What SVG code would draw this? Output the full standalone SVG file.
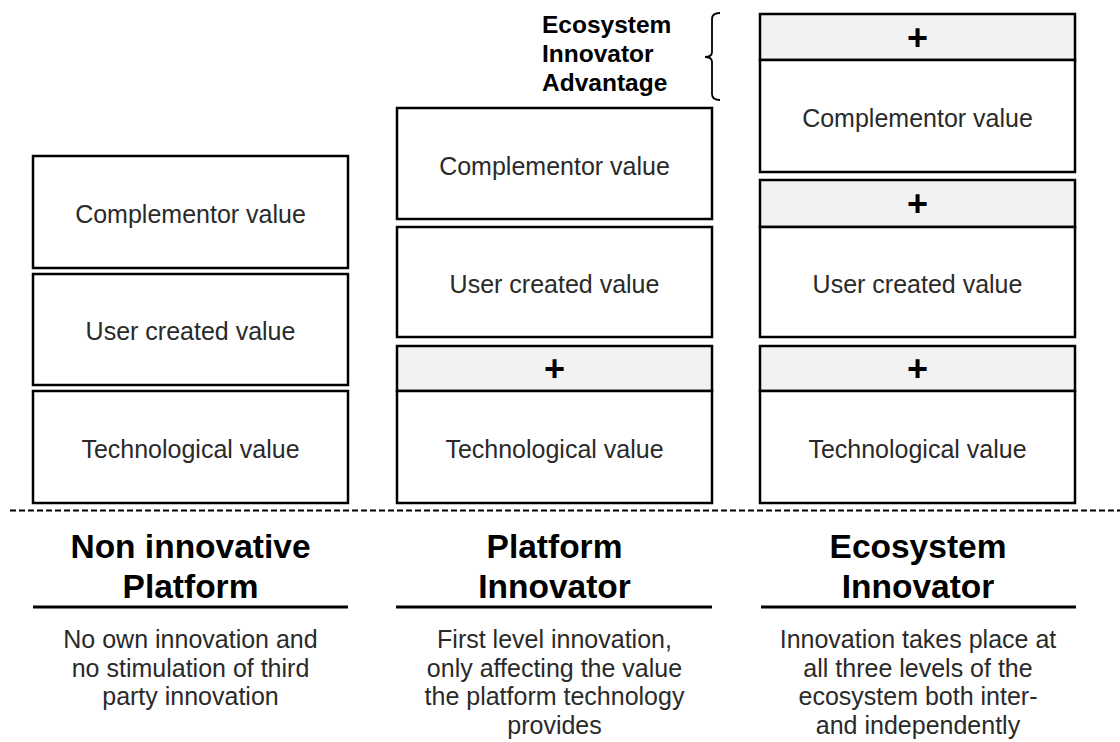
<svg xmlns="http://www.w3.org/2000/svg" width="1120" height="742" viewBox="0 0 1120 742">
  <style>
    .box { fill: #ffffff; stroke: #000000; stroke-width: 2.5; }
    .plus-band { fill: #f2f2f2; stroke: #000000; stroke-width: 2.5; }
    .label { font-family: "Liberation Sans", Arial, sans-serif; font-size: 25px; fill: #2a2a2a; text-anchor: middle; }
    .plus { font-family: "Liberation Sans", Arial, sans-serif; font-size: 36px; font-weight: bold; fill: #000000; text-anchor: middle; }
    .title { font-family: "Liberation Sans", Arial, sans-serif; font-size: 33.5px; font-weight: bold; fill: #000000; text-anchor: middle; }
    .desc { font-family: "Liberation Sans", Arial, sans-serif; font-size: 25px; fill: #2a2a2a; text-anchor: middle; }
    .note { font-family: "Liberation Sans", Arial, sans-serif; font-size: 24.5px; font-weight: bold; fill: #000000; }
    .rule { stroke: #000000; stroke-width: 3; }
  </style>
  <rect width="1120" height="742" fill="#ffffff"/>

  <!-- Column 1: non innovative platform -->
  <g id="col1-complementor">
    <rect class="box" x="33" y="156" width="315" height="112"/>
    <text class="label" x="190.5" y="223">Complementor value</text>
  </g>
  <g id="col1-user">
    <rect class="box" x="33" y="274" width="315" height="111"/>
    <text class="label" x="190.5" y="340">User created value</text>
  </g>
  <g id="col1-tech">
    <rect class="box" x="33" y="391" width="315" height="112"/>
    <text class="label" x="190.5" y="458">Technological value</text>
  </g>

  <!-- Column 2: platform innovator -->
  <g id="col2-complementor">
    <rect class="box" x="397" y="108" width="315" height="111"/>
    <text class="label" x="554.5" y="174.5">Complementor value</text>
  </g>
  <g id="col2-user">
    <rect class="box" x="397" y="227" width="315" height="110"/>
    <text class="label" x="554.5" y="293">User created value</text>
  </g>
  <g id="col2-tech">
    <rect class="plus-band" x="397" y="346" width="315" height="45"/>
    <rect class="box" x="397" y="391" width="315" height="112"/>
    <text class="plus" x="554.5" y="381">+</text>
    <text class="label" x="554.5" y="458">Technological value</text>
  </g>

  <!-- Column 3: ecosystem innovator -->
  <g id="col3-complementor">
    <rect class="plus-band" x="760" y="14" width="315" height="46"/>
    <rect class="box" x="760" y="60" width="315" height="112"/>
    <text class="plus" x="917.5" y="49.5">+</text>
    <text class="label" x="917.5" y="127">Complementor value</text>
  </g>
  <g id="col3-user">
    <rect class="plus-band" x="760" y="180" width="315" height="47"/>
    <rect class="box" x="760" y="227" width="315" height="110"/>
    <text class="plus" x="917.5" y="216">+</text>
    <text class="label" x="917.5" y="293">User created value</text>
  </g>
  <g id="col3-tech">
    <rect class="plus-band" x="760" y="346" width="315" height="45"/>
    <rect class="box" x="760" y="391" width="315" height="112"/>
    <text class="plus" x="917.5" y="381">+</text>
    <text class="label" x="917.5" y="458">Technological value</text>
  </g>

  <!-- Advantage annotation with brace -->
  <g id="advantage">
    <text class="note" x="542" y="33">Ecosystem</text>
    <text class="note" x="542" y="62">Innovator</text>
    <text class="note" x="542" y="91">Advantage</text>
    <path d="M 720 13 Q 712 13 712 19 L 712 52 Q 712 57 705 57 Q 712 57 712 62 L 712 94 Q 712 100 720 100" fill="none" stroke="#000000" stroke-width="1.8"/>
  </g>

  <!-- Separator -->
  <g id="connectors">
    <line x1="10" y1="510.5" x2="1120" y2="510.5" stroke="#000000" stroke-width="2" stroke-dasharray="6 3"/>
  </g>

  <!-- Captions -->
  <g id="caption1">
    <text class="title" x="190.5" y="558">Non innovative</text>
    <text class="title" x="190.5" y="598">Platform</text>
    <line class="rule" x1="33" y1="607" x2="348" y2="607"/>
    <text class="desc" x="190.5" y="648">No own innovation and</text>
    <text class="desc" x="190.5" y="676.5">no stimulation of third</text>
    <text class="desc" x="190.5" y="705">party innovation</text>
  </g>
  <g id="caption2">
    <text class="title" x="554.5" y="558">Platform</text>
    <text class="title" x="554.5" y="598">Innovator</text>
    <line class="rule" x1="396" y1="607" x2="712" y2="607"/>
    <text class="desc" x="554.5" y="648">First level innovation,</text>
    <text class="desc" x="554.5" y="676.5">only affecting the value</text>
    <text class="desc" x="554.5" y="705">the platform technology</text>
    <text class="desc" x="554.5" y="733.5">provides</text>
  </g>
  <g id="caption3">
    <text class="title" x="918" y="558">Ecosystem</text>
    <text class="title" x="918" y="598">Innovator</text>
    <line class="rule" x1="761" y1="607" x2="1076" y2="607"/>
    <text class="desc" x="918" y="648">Innovation takes place at</text>
    <text class="desc" x="918" y="676.5">all three levels of the</text>
    <text class="desc" x="918" y="705">ecosystem both inter-</text>
    <text class="desc" x="918" y="733.5">and independently</text>
  </g>
</svg>
